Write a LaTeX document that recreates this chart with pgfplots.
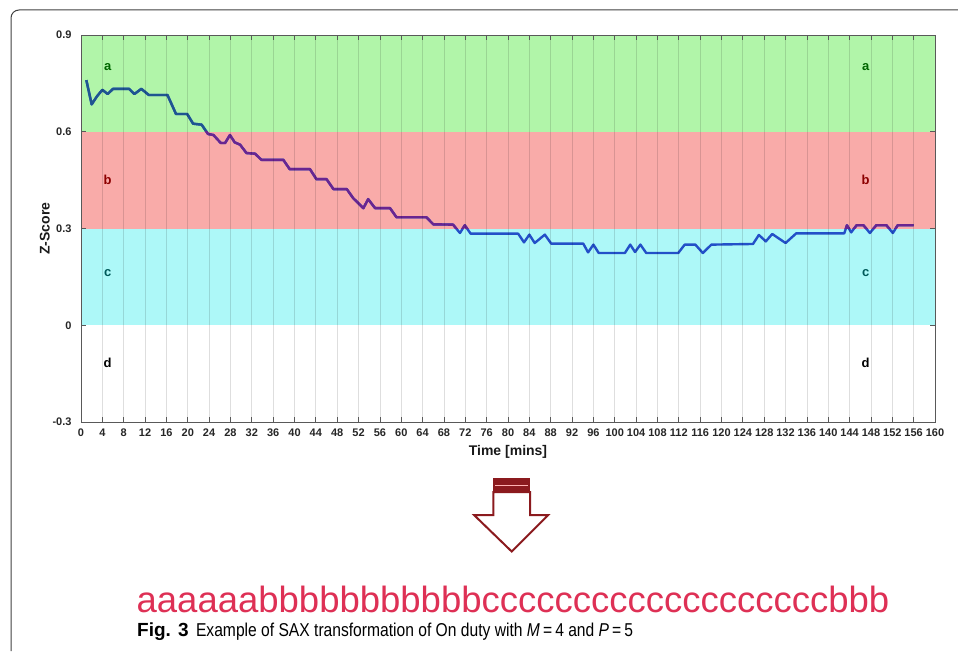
\documentclass[border=0pt]{standalone}
\usepackage{pgfplots}
\pgfplotsset{compat=1.18}
\usepackage{pgfplotstable}
\usepackage{fontspec}
\setmainfont{Liberation Sans}
\newfontfamily\capfont[FakeStretch=0.84]{Liberation Sans}
\definecolor{bandgreen}{HTML}{B1F5A9}
\definecolor{bandred}{HTML}{F9ABA9}
\definecolor{bandcyan}{HTML}{ADF8F8}
\definecolor{lineblue}{HTML}{2350C8}
\definecolor{lineteal}{HTML}{1F5590}
\definecolor{linepurple}{HTML}{6A2590}
\definecolor{saxred}{HTML}{DE3055}
\definecolor{arrowred}{HTML}{8B1A1E}
\pgfplotstableread{
t z
1 0.76
2 0.685
3 0.71
4 0.73
5 0.717
6 0.733
9 0.733
10 0.717
11.3 0.733
12.7 0.714
16.2 0.714
17.8 0.655
19.9 0.655
21 0.625
22.6 0.622
23.8 0.593
24.8 0.59
26.2 0.565
27 0.565
27.9 0.59
28.8 0.567
29.8 0.56
31 0.534
32.6 0.532
33.8 0.513
37.9 0.513
39.1 0.484
42.9 0.484
44.1 0.453
46 0.453
47.3 0.422
49.8 0.422
51 0.394
52.9 0.363
53.8 0.391
55.1 0.363
57.9 0.363
59.1 0.335
64.7 0.335
66 0.313
69.7 0.312
71 0.286
71.9 0.31
73 0.284
81.9 0.284
83 0.257
84 0.281
85 0.255
86.9 0.281
88.1 0.253
94.1 0.253
95 0.226
96 0.25
97 0.224
101.9 0.224
102.9 0.25
103.8 0.227
104.8 0.25
105.9 0.224
111.9 0.224
113.1 0.25
115.1 0.25
116.5 0.224
118.1 0.25
125.9 0.252
127 0.28
128.3 0.26
129.5 0.283
132 0.255
134 0.285
143 0.285
143.5 0.31
144.3 0.288
145.3 0.31
146.6 0.31
147.8 0.286
149 0.31
150.9 0.31
152.1 0.286
153 0.31
156 0.31
}\linedata
\begin{document}
\begin{tikzpicture}[x=1pt,y=1pt]
\useasboundingbox (0,0) rectangle (958,651);
\draw[rounded corners=8pt, line width=1pt, black!75] (11,0) -- (11,641) -- (958,641);
\begin{axis}[
  at={(81pt,229pt)}, anchor=south west,
  scale only axis, width=854pt, height=387pt,
  xmin=0, xmax=160, ymin=-0.3, ymax=0.9,
  xtick={0,4,...,160},
  ytick={-0.3,0,0.3,0.6,0.9},
  yticklabels={-0.3,0,0.3,0.6,0.9},
  /pgf/number format/assume math mode=true,
  ticklabel style={font=\fontsize{11}{11}\selectfont\bfseries, text=black!85},
  xticklabel style={yshift=-3pt},
  yticklabel style={xshift=-6pt},
  tick align=inside,
  major tick length=5pt,
  tick style={black!65, line width=0.8pt},
  axis line style={black!65, line width=0.8pt},
  xmajorgrids,
  grid style={black, opacity=0.13, line width=0.8pt},
  axis on top,
  xlabel={Time [mins]},
  ylabel={Z-Score},
  label style={font=\fontsize{14}{14}\selectfont\bfseries, text=black!90},
  xlabel style={yshift=-2pt},
  ylabel style={yshift=-4pt},
]
\addplot[fill=bandgreen, draw=none] coordinates {(0,0.6) (160,0.6) (160,0.9) (0,0.9)} -- cycle;
\addplot[fill=bandred, draw=none] coordinates {(0,0.3) (160,0.3) (160,0.6) (0,0.6)} -- cycle;
\addplot[fill=bandcyan, draw=none] coordinates {(0,0) (160,0) (160,0.3) (0,0.3)} -- cycle;
\addplot[lineblue, line width=2.4pt, line join=round] table[x=t,y=z] {\linedata};
\begin{scope}
\clip (axis cs:0,0.6) rectangle (axis cs:160,0.9);
\addplot[lineteal, line width=2.4pt, line join=round] table[x=t,y=z] {\linedata};
\end{scope}
\begin{scope}
\clip (axis cs:0,0.3) rectangle (axis cs:160,0.6);
\addplot[linepurple, line width=2.4pt, line join=round] table[x=t,y=z] {\linedata};
\end{scope}
\node[font=\fontsize{13}{13}\selectfont\bfseries, text=green!40!black] at (axis cs:5,0.801) {a};
\node[font=\fontsize{13}{13}\selectfont\bfseries, text=green!40!black] at (axis cs:147,0.801) {a};
\node[font=\fontsize{13}{13}\selectfont\bfseries, text=red!55!black] at (axis cs:5,0.451) {b};
\node[font=\fontsize{13}{13}\selectfont\bfseries, text=red!55!black] at (axis cs:147,0.451) {b};
\node[font=\fontsize{13}{13}\selectfont\bfseries, text=teal!70!black] at (axis cs:5,0.162) {c};
\node[font=\fontsize{13}{13}\selectfont\bfseries, text=teal!70!black] at (axis cs:147,0.162) {c};
\node[font=\fontsize{13}{13}\selectfont\bfseries, text=black] at (axis cs:5,-0.116) {d};
\node[font=\fontsize{13}{13}\selectfont\bfseries, text=black] at (axis cs:147,-0.116) {d};
\end{axis}
% arrow
\fill[arrowred] (493.3,173) rectangle (530,159);
\draw[white!70!red, line width=1pt] (495,166) -- (528,166);
\draw[arrowred, line width=2pt, line join=miter, fill=white] (493.3,159) -- (493.3,136) -- (474,136) -- (511.7,99.5) -- (548.3,136) -- (530,136) -- (530,159) -- cycle;
\node[anchor=base, font=\fontsize{36.5}{36.5}\selectfont, text=saxred, inner sep=0] at (513,38.5) {aaaaaabbbbbbbbbbbcccccccccccccccccccbbb};
\node[anchor=base west, inner sep=0] at (137,15) {{\fontsize{19}{19}\selectfont\bfseries Fig. 3}\hspace{0.75em}{\capfont\fontsize{18.6}{18.6}\selectfont Example of SAX transformation of On duty with \textit{M}\,=\,4 and \textit{P}\,=\,5}};
\end{tikzpicture}
\end{document}
